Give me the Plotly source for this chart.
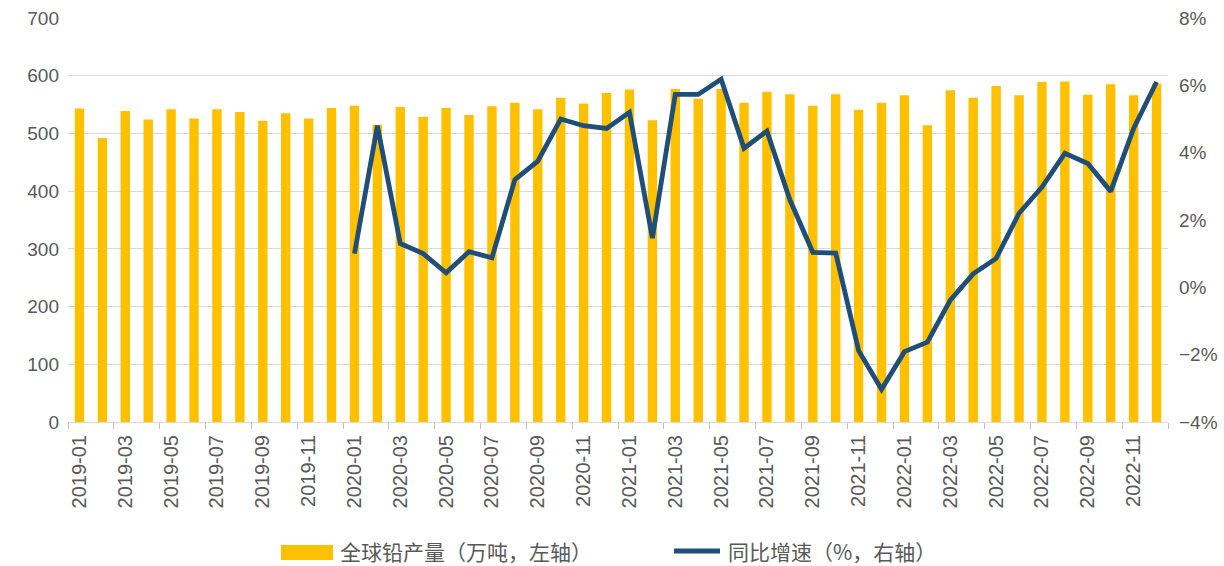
import plotly.graph_objects as go

months = [f"{y}-{m:02d}" for y in (2019, 2020, 2021, 2022) for m in range(1, 13)]

production = [543, 492, 539, 524, 542, 526, 542, 537, 522, 535, 526, 544,
              548, 515, 546, 529, 544, 532, 547, 553, 542, 562, 552, 570,
              576, 523, 577, 560, 577, 553, 572, 568, 548, 568, 541, 553,
              566, 514, 575, 562, 582, 566, 589, 590, 567, 585, 566, 586]

growth_months = months[12:]
growth = [1.0, 4.8, 1.3, 1.0, 0.43, 1.06, 0.88, 3.2, 3.75, 5.0, 4.8, 4.72,
          5.2, 1.46, 5.73, 5.73, 6.18, 4.13, 4.64, 2.6, 1.04, 1.02, -1.88, -3.03,
          -1.91, -1.63, -0.38, 0.4, 0.86, 2.2, 2.98, 3.98, 3.68, 2.85, 4.72, 6.1]

name_bar = "全球铅产量（万吨，左轴）"
name_line = "同比增速（%，右轴）"
bar_color = "#FFC000"
line_color = "#1F4E79"

W, H = 1224, 566
ML, MR, MT, MB = 68, 56, 18, 144
PW, PH = W - ML - MR, H - MT - MB


def px_x(p):
    return (p - ML) / PW


def px_y(p):
    return (H - MB - p) / PH


fig = go.Figure()
fig.add_trace(go.Bar(x=months, y=production, name=name_bar, showlegend=False,
                     marker=dict(color=bar_color, line=dict(width=0)), yaxis="y"))
fig.add_trace(go.Scatter(x=growth_months, y=growth, name=name_line, mode="lines",
                         showlegend=False,
                         line=dict(color=line_color, width=4.8), yaxis="y2"))

# custom legend drawn below the plot
legend_y = 551
fig.add_shape(type="rect", xref="paper", yref="paper",
              x0=px_x(281), x1=px_x(333), y0=px_y(560), y1=px_y(545),
              fillcolor=bar_color, line=dict(width=0))
fig.add_annotation(xref="paper", yref="paper", x=px_x(338), y=px_y(legend_y),
                   xanchor="left", yanchor="middle", showarrow=False, text=name_bar,
                   font=dict(family="Noto Sans CJK SC", size=21, color="#595959"))
fig.add_shape(type="line", xref="paper", yref="paper",
              x0=px_x(674), x1=px_x(720), y0=px_y(legend_y), y1=px_y(legend_y),
              line=dict(color=line_color, width=5))
fig.add_annotation(xref="paper", yref="paper", x=px_x(726), y=px_y(legend_y),
                   xanchor="left", yanchor="middle", showarrow=False, text=name_line,
                   font=dict(family="Noto Sans CJK SC", size=21, color="#595959"))

fig.update_layout(
    width=W, height=H,
    margin=dict(l=ML, r=MR, t=MT, b=MB),
    plot_bgcolor="white", paper_bgcolor="white",
    bargap=0.59, showlegend=False,
    font=dict(family="Liberation Sans, Arial, sans-serif", color="#595959", size=17),
    xaxis=dict(type="category", categoryorder="array", categoryarray=months,
               dtick=2, tickson="boundaries", ticks="outside", ticklen=6,
               tickcolor="#BFBFBF", tickangle=-90, showline=True, linecolor="#D9D9D9",
               linewidth=1, showgrid=False, automargin=False, ticklabelstandoff=4,
               tickfont=dict(size=20, color="#595959")),
    yaxis=dict(range=[0, 700], dtick=100, showgrid=True, gridcolor="#D9D9D9",
               gridwidth=1, zeroline=False, showline=False, automargin=False,
               ticklabelstandoff=8,
               tickfont=dict(size=19, color="#595959")),
    yaxis2=dict(range=[-4, 8], dtick=2, overlaying="y", side="right",
                ticksuffix="%", showgrid=False, zeroline=False, showline=False,
                automargin=False, ticklabelstandoff=10,
                tickfont=dict(size=19, color="#595959")),
)

fig.write_html("out.html", config={"displayModeBar": False},
               post_script="document.body.style.margin='0';")
